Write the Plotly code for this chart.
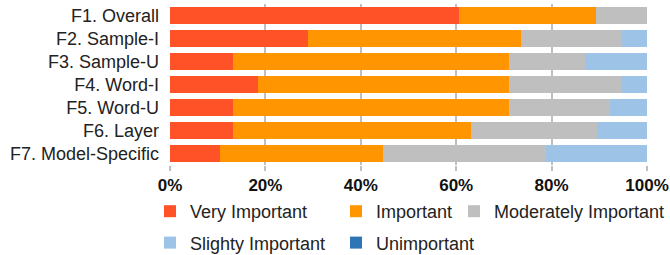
import plotly.graph_objects as go

categories = ["F1. Overall", "F2. Sample-I", "F3. Sample-U", "F4. Word-I",
              "F5. Word-U", "F6. Layer", "F7. Model-Specific"]
very_important = [60.5, 28.9, 13.2, 18.4, 13.2, 13.2, 10.5]
important = [28.9, 44.7, 57.9, 52.6, 57.9, 50.0, 34.2]
moderately_important = [10.5, 21.1, 15.8, 23.7, 21.1, 26.3, 34.2]
slighty_important = [0.0, 5.3, 13.2, 5.3, 7.9, 10.5, 21.1]
unimportant = [0.0, 0.0, 0.0, 0.0, 0.0, 0.0, 0.0]
tick_vals = [0, 20, 40, 60, 80, 100]
tick_text = ["0%", "20%", "40%", "60%", "80%", "100%"]

series = [
    ("Very Important", very_important, "#FF5226", "legend"),
    ("Important", important, "#FF9500", "legend2"),
    ("Moderately Important", moderately_important, "#BFBFBF", "legend3"),
    ("Slighty Important", slighty_important, "#9DC3E6", "legend"),
    ("Unimportant", unimportant, "#2E75B6", "legend2"),
]

fig = go.Figure()
for i, (name, vals, color, lg) in enumerate(series):
    fig.add_trace(go.Bar(
        y=categories, x=vals, name=name, orientation="h",
        marker=dict(color=color, line=dict(width=0)),
        legend=lg, legendgroup=name, hoverinfo="skip",
    ))

font_family = "Liberation Sans, Arial, sans-serif"
leg_common = dict(
    orientation="v", yanchor="top", xanchor="left",
    xref="container", yref="container", y=1 - 193 / 255,
    font=dict(family=font_family, size=18, color="#222222"),
    traceorder="grouped", tracegroupgap=5, itemwidth=30,
    bgcolor="rgba(0,0,0,0)", borderwidth=0,
)

fig.update_layout(
    width=670, height=255,
    margin=dict(l=170, r=23, t=4, b=90, autoexpand=False),
    barmode="stack", bargap=0.3,
    plot_bgcolor="white", paper_bgcolor="white",
    font=dict(family=font_family, size=18, color="#222222"),
    showlegend=True,
    legend=dict(leg_common, x=150 / 670),
    legend2=dict(leg_common, x=336 / 670),
    legend3=dict(leg_common, x=454 / 670),
    xaxis=dict(
        range=[0, 100], tickvals=tick_vals, ticktext=tick_text,
        showgrid=True, gridcolor="#BFBFBF", gridwidth=2,
        ticks="outside", ticklen=5, tickcolor="#BFBFBF", tickwidth=2,
        tickfont=dict(family=font_family, size=17, color="#111111", weight="bold"),
        zeroline=False, showline=False, fixedrange=True, automargin=False,
    ),
    yaxis=dict(
        categoryorder="array", categoryarray=categories, autorange="reversed",
        tickmode="array", tickvals=categories,
        showgrid=False, ticks="", ticklabelstandoff=10,
        tickfont=dict(family=font_family, size=18, color="#222222"),
        fixedrange=True, automargin=False,
    ),
)

fig.write_html(
    "out.html",
    config={"displayModeBar": False},
    post_script="document.body.style.margin='0';document.body.style.padding='0';",
)
